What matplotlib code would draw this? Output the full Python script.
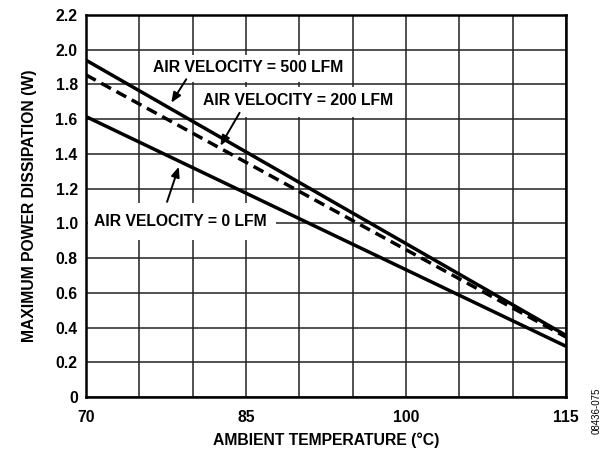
import matplotlib
matplotlib.use("Agg")
import matplotlib.pyplot as plt
from matplotlib.patches import Rectangle

plt.rcParams['font.family'] = ['Liberation Sans', 'DejaVu Sans']
plt.rcParams['font.weight'] = 'bold'

temps = [70, 115]
lfm500 = [1.94, 0.355]
lfm200 = [1.855, 0.345]
lfm0 = [1.615, 0.292]

x_major = [70, 85, 100, 115]
x_minor = [75, 80, 90, 95, 105, 110]
y_ticks = [0, 0.2, 0.4, 0.6, 0.8, 1.0, 1.2, 1.4, 1.6, 1.8, 2.0, 2.2]
y_labels = ['0', '0.2', '0.4', '0.6', '0.8', '1.0', '1.2', '1.4', '1.6', '1.8', '2.0', '2.2']

FS = 11.3

fig = plt.figure(figsize=(6.08, 4.51), dpi=100)
ax = fig.add_axes([0.1414, 0.1197, 0.7896, 0.847])

ax.plot(temps, lfm500, color='black', lw=2.5, solid_capstyle='butt', zorder=3)
ax.plot(temps, lfm200, color='black', lw=2.5, ls=(0, (3.2, 1.8)), zorder=3)
ax.plot(temps, lfm0, color='black', lw=2.5, solid_capstyle='butt', zorder=3)

ax.set_xlim(70, 115)
ax.set_ylim(0, 2.2)
ax.set_xticks(x_major)
ax.set_xticks(x_minor, minor=True)
ax.set_xticklabels([str(v) for v in x_major])
ax.set_yticks(y_ticks)
ax.set_yticklabels(y_labels)
ax.tick_params(which='both', length=0, labelsize=FS, pad=6)
ax.tick_params(axis='x', pad=9)
for lab in ax.get_xticklabels() + ax.get_yticklabels():
    lab.set_fontweight('bold')
ax.grid(True, which='both', color='#222222', lw=1.1, zorder=1)
for s in ax.spines.values():
    s.set_linewidth(1.8)

ax.set_xlabel('AMBIENT TEMPERATURE (°C)', fontsize=FS, fontweight='bold', labelpad=6)
ax.set_ylabel('MAXIMUM POWER DISSIPATION (W)', fontsize=FS, fontweight='bold', labelpad=13)

ap = dict(arrowstyle='-|>,head_length=0.6,head_width=0.25', color='black', lw=1.4, shrinkA=0, shrinkB=0)

# white label backgrounds (gridline masks)
ax.add_patch(Rectangle((75.7, 1.812), 18.9, 0.159, fc='white', ec='none', zorder=2))
ax.add_patch(Rectangle((80.3, 1.614), 19.2, 0.173, fc='white', ec='none', zorder=2))
ax.add_patch(Rectangle((70.2, 0.905), 17.6, 0.213, fc='white', ec='none', zorder=2))

ax.text(85.2, 1.90, 'AIR VELOCITY = 500 LFM', ha='center', va='center', fontsize=FS,
        fontweight='bold', zorder=4)
ax.annotate('', xy=(78.0, 1.695), xytext=(79.4, 1.83), arrowprops=ap, zorder=5)

ax.text(89.9, 1.708, 'AIR VELOCITY = 200 LFM', ha='center', va='center', fontsize=FS,
        fontweight='bold', zorder=4)
ax.annotate('', xy=(82.6, 1.447), xytext=(84.4, 1.637), arrowprops=ap, zorder=5)

ax.text(78.8, 1.009, 'AIR VELOCITY = 0 LFM', ha='center', va='center', fontsize=FS,
        fontweight='bold', zorder=4)
ax.annotate('', xy=(78.7, 1.326), xytext=(77.6, 1.124), arrowprops=ap, zorder=5)

fig.text(0.982, 0.09, '08436-075', rotation=90, ha='center', va='center', fontsize=7,
         fontweight='normal')

fig.savefig('out.png', dpi=100)
